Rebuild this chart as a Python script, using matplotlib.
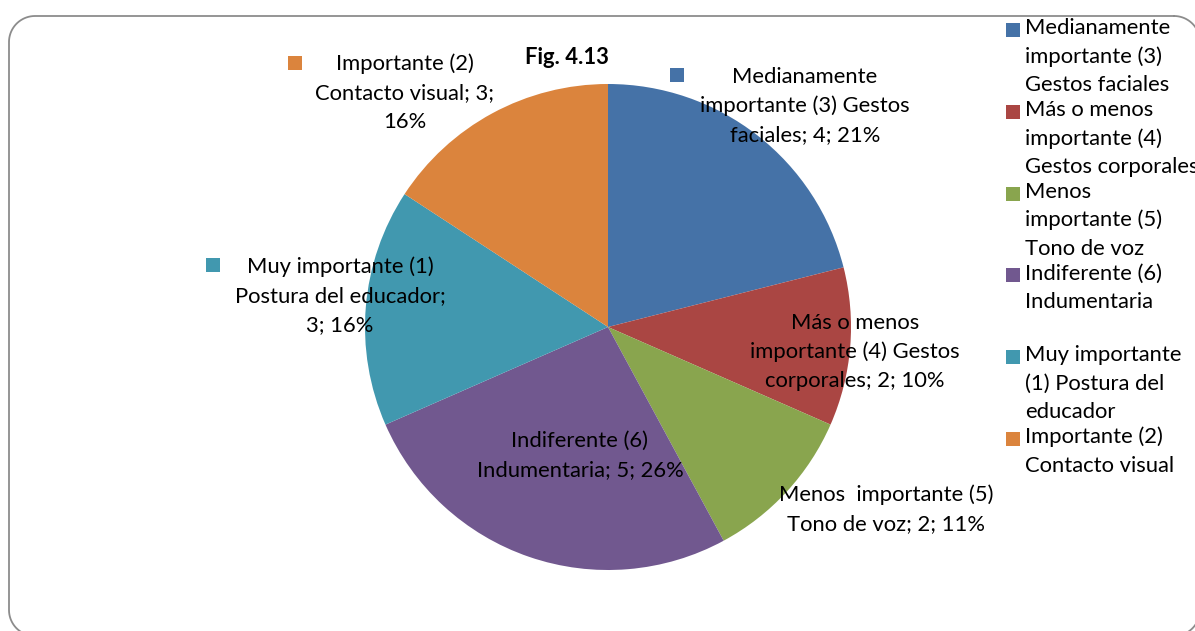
import numpy as np
import matplotlib.pyplot as plt
from matplotlib.patches import Rectangle

# Datos de la figura 4.13
categorias = [
    'Medianamente importante (3) Gestos faciales',
    'Más o menos importante (4) Gestos corporales',
    'Menos  importante (5) Tono de voz',
    'Indiferente (6) Indumentaria',
    'Muy importante (1) Postura del educador',
    'Importante (2) Contacto visual',
]
valores = [4, 2, 2, 5, 3, 3]
porcentajes = ['21%', '10%', '11%', '26%', '16%', '16%']
colores = ['#4572A7', '#AA4643', '#89A54E', '#71588F', '#4198AF', '#DB843D']

# Cortes de línea de las etiquetas de datos y de la leyenda
etiquetas_lineas = [
    ['Medianamente', 'importante (3) Gestos', 'faciales; 4; 21%'],
    ['Más o menos', 'importante (4) Gestos', 'corporales; 2; 10%'],
    ['Menos  importante (5)', 'Tono de voz; 2; 11%'],
    ['Indiferente (6)', 'Indumentaria; 5; 26%'],
    ['Muy importante (1)', 'Postura del educador;', '3; 16%'],
    ['Importante (2)', 'Contacto visual; 3;', '16%'],
]
leyenda_lineas = [
    ['Medianamente', 'importante (3)', 'Gestos faciales'],
    ['Más o menos', 'importante (4)', 'Gestos corporales'],
    ['Menos', 'importante (5)', 'Tono de voz'],
    ['Indiferente (6)', 'Indumentaria', ''],
    ['Muy importante', '(1) Postura del', 'educador'],
    ['Importante (2)', 'Contacto visual'],
]

W, H = 1195, 631
FUENTE = ['Lato', 'DejaVu Sans']
TAM = 15.8

fig = plt.figure(figsize=(W / 100, H / 100), dpi=100)

# Capa de fondo en píxeles (origen arriba a la izquierda)
fondo = fig.add_axes([0, 0, 1, 1], zorder=-1)
fondo.set_xlim(0, W)
fondo.set_ylim(H, 0)
fondo.axis('off')


def marco_redondeado(x0, y0, x1, y1, rad):
    """Contorno de un rectángulo con esquinas redondeadas (en px)."""
    t = np.linspace(0, np.pi / 2, 20)
    xs, ys = [], []
    esquinas = [(x1 - rad, y0 + rad, -np.pi / 2), (x1 - rad, y1 - rad, 0),
                (x0 + rad, y1 - rad, np.pi / 2), (x0 + rad, y0 + rad, np.pi)]
    for ex, ey, a0 in esquinas:
        xs.extend(ex + rad * np.cos(a0 + t))
        ys.extend(ey + rad * np.sin(a0 + t))
    xs.append(xs[0])
    ys.append(ys[0])
    return xs, ys


# Marco del gráfico (lados derecho e inferior fuera del lienzo)
mx, my = marco_redondeado(9, 16, 1200, 636, 26)
fondo.plot(mx, my, color='#8c8c8c', linewidth=1.3, clip_on=False)

# Pastel: centro (608, 327) px, radio 243 px
cx, cy, r = 608, 327, 243
ax = fig.add_axes([(cx - r) / W, 1 - (cy + r) / H, 2 * r / W, 2 * r / H])
ax.pie(valores, colors=colores, startangle=90, counterclock=False,
       radius=1, wedgeprops={'linewidth': 0})
ax.set_xlim(-1, 1)
ax.set_ylim(-1, 1)
ax.set_aspect('equal')
ax.axis('off')

# Capa superior para textos en píxeles
capa = fig.add_axes([0, 0, 1, 1], zorder=5)
capa.set_xlim(0, W)
capa.set_ylim(H, 0)
capa.axis('off')

# Etiquetas de datos (centro del bloque en px)
pos_etiquetas = [(805, 77), (855, 323), (886, 495), (580, 441), (340, 267), (405, 64)]
claves = {0: (677, 75), 4: (213, 265), 5: (295, 63)}
paso = 29
for i, lineas in enumerate(etiquetas_lineas):
    x0, y0 = pos_etiquetas[i]
    for j, linea in enumerate(lineas):
        capa.text(x0, y0 + j * paso, linea, ha='center', va='center',
                  fontsize=TAM, family=FUENTE, color='black')
    if i in claves:
        kx, ky = claves[i]
        capa.add_patch(Rectangle((kx - 7, ky - 7), 14, 14,
                                 facecolor=colores[i], edgecolor='none'))

# Título
capa.text(567, 57, 'Fig. 4.13', ha='center', va='center',
          fontsize=TAM, fontweight='bold', family=FUENTE)

# Leyenda
for i, lineas in enumerate(leyenda_lineas):
    y0 = 28 + i * 81.8
    capa.add_patch(Rectangle((1006, y0 - 5), 14, 14,
                             facecolor=colores[i], edgecolor='none'))
    for j, linea in enumerate(lineas):
        capa.text(1025, y0 + j * 28.5, linea, ha='left', va='center',
                  fontsize=TAM, family=FUENTE, color='black')

fig.savefig('out.png', dpi=100, facecolor='white')
